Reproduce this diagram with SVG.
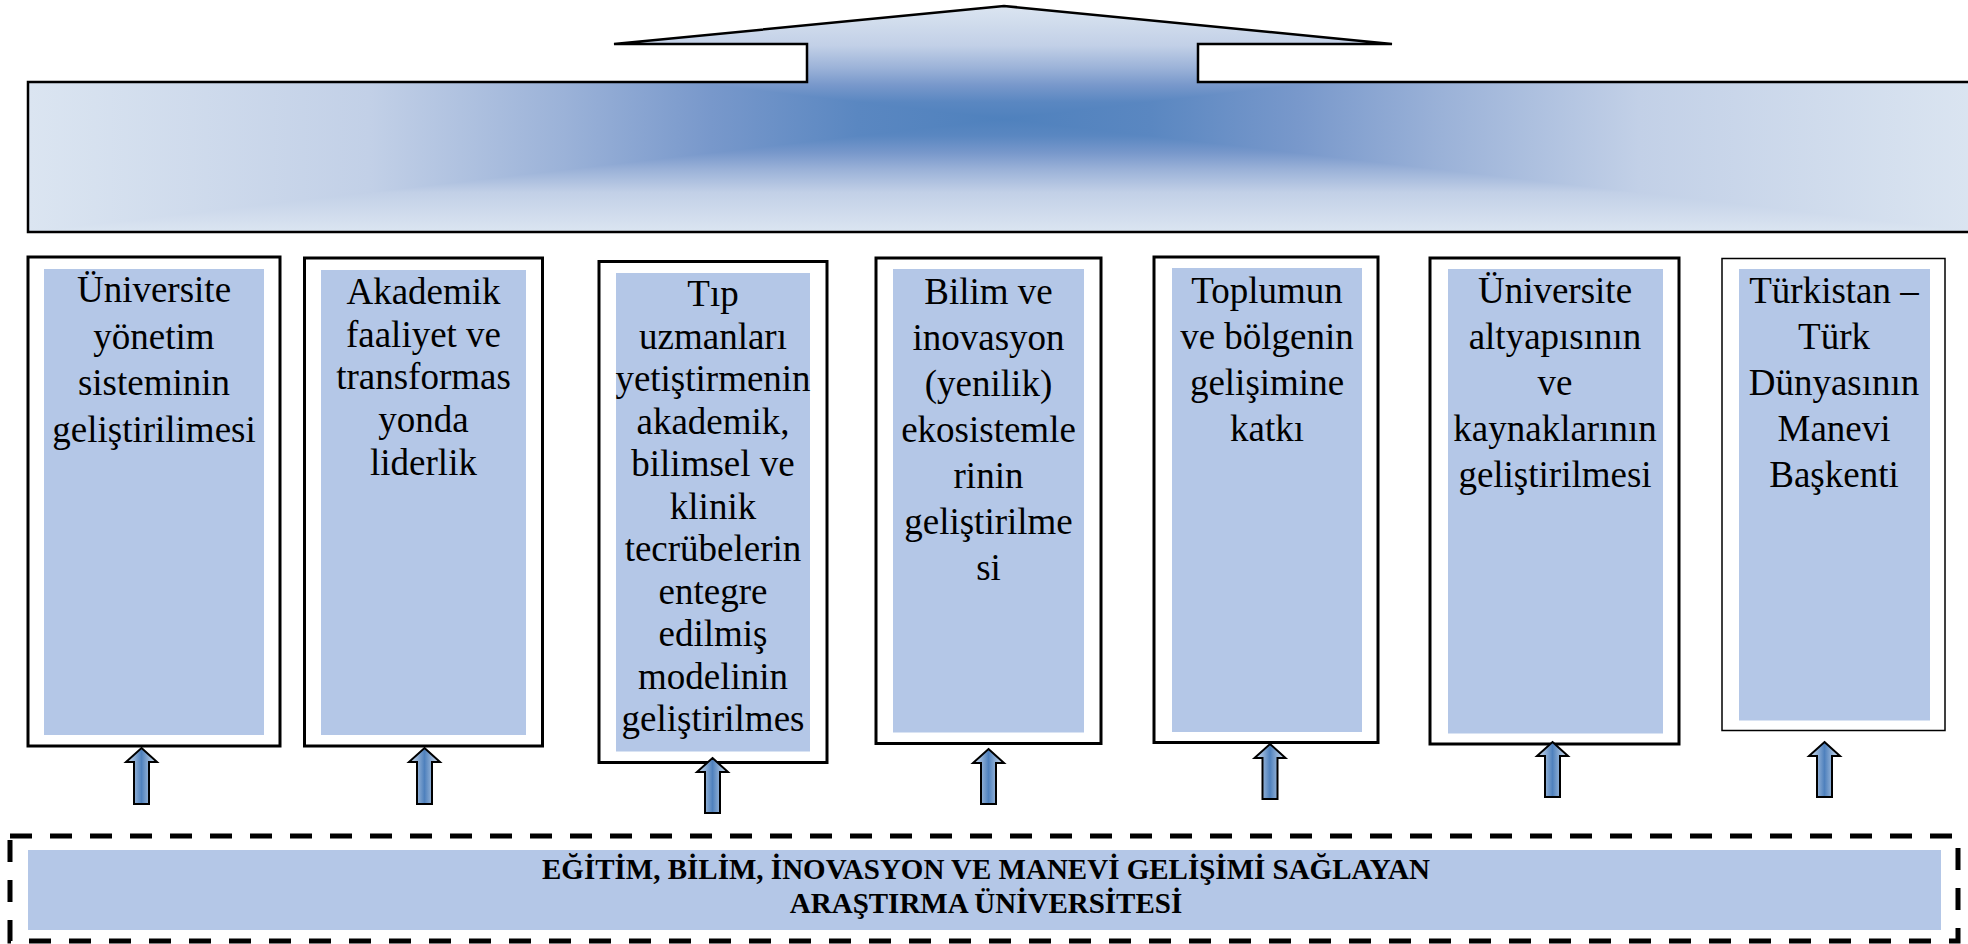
<svg xmlns="http://www.w3.org/2000/svg" width="1968" height="944" viewBox="0 0 1968 944">
<defs>
<path id="topShape" d="M 28 82 L 807 82 L 807 44 L 614 44 L 1004 6 L 1392 44 L 1198 44 L 1198 82 L 1980 82 L 1980 232 L 28 232 Z"/>
<clipPath id="topClip"><use href="#topShape"/></clipPath>
<linearGradient id="hGrad" gradientUnits="userSpaceOnUse" x1="28" y1="0" x2="1980" y2="0">
<stop offset="0" stop-color="#DBE5F1"/>
<stop offset="0.175" stop-color="#C2D0E7"/>
<stop offset="0.275" stop-color="#9BB2D8"/>
<stop offset="0.35" stop-color="#7898CB"/>
<stop offset="0.425" stop-color="#5A87C1"/>
<stop offset="0.5" stop-color="#4F81BD"/>
<stop offset="0.575" stop-color="#5A87C1"/>
<stop offset="0.65" stop-color="#7898CB"/>
<stop offset="0.725" stop-color="#9BB2D8"/>
<stop offset="0.825" stop-color="#C2D0E7"/>
<stop offset="1" stop-color="#DBE5F1"/>
</linearGradient>
<linearGradient id="vTop" gradientUnits="userSpaceOnUse" x1="0" y1="119" x2="0" y2="6">
<stop offset="0" stop-color="#4F81BD"/>
<stop offset="0.15" stop-color="#5A87C1"/>
<stop offset="0.3" stop-color="#7898CB"/>
<stop offset="0.45" stop-color="#9BB2D8"/>
<stop offset="0.65" stop-color="#C2D0E7"/>
<stop offset="1" stop-color="#DBE5F1"/>
</linearGradient>
<linearGradient id="vBot" gradientUnits="userSpaceOnUse" x1="0" y1="119" x2="0" y2="232">
<stop offset="0" stop-color="#4F81BD"/>
<stop offset="0.15" stop-color="#5A87C1"/>
<stop offset="0.3" stop-color="#7898CB"/>
<stop offset="0.45" stop-color="#9BB2D8"/>
<stop offset="0.65" stop-color="#C2D0E7"/>
<stop offset="1" stop-color="#DBE5F1"/>
</linearGradient>
<linearGradient id="arrGrad" x1="0" y1="0" x2="1" y2="0">
<stop offset="0" stop-color="#DCE6F2"/>
<stop offset="0.5" stop-color="#4F81BD"/>
<stop offset="1" stop-color="#DCE6F2"/>
</linearGradient>
<style>
.outer{fill:#FFFFFF;stroke:#000000;stroke-width:3}
.outer.thin{stroke-width:1.5}
.inner{fill:#B4C7E7}
.lbl{font-family:"Liberation Serif","Times New Roman",serif;font-size:37px;fill:#000000;text-anchor:middle}
.bold{font-family:"Liberation Serif","Times New Roman",serif;font-size:29px;font-weight:bold;fill:#000000;text-anchor:middle}
.arr{fill:url(#arrGrad);stroke:#000000;stroke-width:2}
</style>
</defs>
<rect width="1968" height="944" fill="#FFFFFF"/>

<g id="top-arrow">
<g clip-path="url(#topClip)">
<rect x="28" y="6" width="1952" height="226" fill="url(#hGrad)"/>
<polygon points="28,6 1980,6 1004,119" fill="url(#vTop)"/>
<polygon points="28,232 1980,232 1004,119" fill="url(#vBot)"/>
</g>
<use href="#topShape" fill="none" stroke="#000000" stroke-width="2.5"/>
</g>

<g id="node1">
<rect class="outer" x="28" y="257" width="252" height="489"/>
<rect class="inner" x="44" y="269" width="220" height="466"/>
<text class="lbl"><tspan x="154" y="302">Üniversite</tspan><tspan x="154" y="348.6">yönetim</tspan><tspan x="154" y="395.2">sisteminin</tspan><tspan x="154" y="441.8">geliştirilimesi</tspan></text>
</g>

<g id="node2">
<rect class="outer" x="304.5" y="258" width="238" height="488"/>
<rect class="inner" x="321" y="270" width="205" height="465"/>
<text class="lbl"><tspan x="423.5" y="304">Akademik</tspan><tspan x="423.5" y="346.7">faaliyet ve</tspan><tspan x="423.5" y="389.4">transformas</tspan><tspan x="423.5" y="432.1">yonda</tspan><tspan x="423.5" y="474.8">liderlik</tspan></text>
</g>

<g id="node3">
<rect class="outer" x="599" y="261.5" width="228" height="501"/>
<rect class="inner" x="616" y="273" width="194" height="478.5"/>
<text class="lbl"><tspan x="713" y="306.3">Tıp</tspan><tspan x="713" y="348.8">uzmanları</tspan><tspan x="713" y="391.3">yetiştirmenin</tspan><tspan x="713" y="433.8">akademik,</tspan><tspan x="713" y="476.3">bilimsel ve</tspan><tspan x="713" y="518.8">klinik</tspan><tspan x="713" y="561.3">tecrübelerin</tspan><tspan x="713" y="603.8">entegre</tspan><tspan x="713" y="646.3">edilmiş</tspan><tspan x="713" y="688.8">modelinin</tspan><tspan x="713" y="731.3">geliştirilmes</tspan></text>
</g>

<g id="node4">
<rect class="outer" x="876" y="258" width="225" height="485.5"/>
<rect class="inner" x="893" y="269" width="191" height="463.5"/>
<text class="lbl"><tspan x="988.5" y="304">Bilim ve</tspan><tspan x="988.5" y="350">inovasyon</tspan><tspan x="988.5" y="396">(yenilik)</tspan><tspan x="988.5" y="442">ekosistemle</tspan><tspan x="988.5" y="488">rinin</tspan><tspan x="988.5" y="534">geliştirilme</tspan><tspan x="988.5" y="580">si</tspan></text>
</g>

<g id="node5">
<rect class="outer" x="1154" y="257" width="224" height="485.5"/>
<rect class="inner" x="1172" y="268" width="190" height="464"/>
<text class="lbl"><tspan x="1267" y="302.8">Toplumun</tspan><tspan x="1267" y="348.8">ve bölgenin</tspan><tspan x="1267" y="394.8">gelişimine</tspan><tspan x="1267" y="440.8">katkı</tspan></text>
</g>

<g id="node6">
<rect class="outer" x="1430" y="258" width="249" height="486"/>
<rect class="inner" x="1448" y="269" width="215" height="464.5"/>
<text class="lbl"><tspan x="1555" y="302.8">Üniversite</tspan><tspan x="1555" y="348.8">altyapısının</tspan><tspan x="1555" y="394.8">ve</tspan><tspan x="1555" y="440.8">kaynaklarının</tspan><tspan x="1555" y="486.8">geliştirilmesi</tspan></text>
</g>

<g id="node7">
<rect class="outer thin" x="1722" y="258.5" width="223" height="472"/>
<rect class="inner" x="1739" y="269" width="191" height="451.5"/>
<text class="lbl"><tspan x="1834" y="302.8">Türkistan –</tspan><tspan x="1834" y="348.8">Türk</tspan><tspan x="1834" y="394.8">Dünyasının</tspan><tspan x="1834" y="440.8">Manevi</tspan><tspan x="1834" y="486.8">Başkenti</tspan></text>
</g>

<g id="base">
<rect x="10" y="836" width="1948" height="105" fill="none" stroke="#000000" stroke-width="5" stroke-dasharray="22 18"/>
<rect class="inner" x="28" y="850" width="1913" height="80"/>
<text class="bold"><tspan x="986" y="878.5">EĞİTİM, BİLİM, İNOVASYON VE MANEVİ GELİŞİMİ SAĞLAYAN</tspan><tspan x="986" y="912.5">ARAŞTIRMA ÜNİVERSİTESİ</tspan></text>
</g>

<g id="connectors">
<path class="arr" d="M 141.5 748 L 157 762 L 149 762 L 149 804 L 134 804 L 134 762 L 126 762 Z"/>
<path class="arr" d="M 424.5 748 L 440 762 L 432 762 L 432 804 L 417 804 L 417 762 L 409 762 Z"/>
<path class="arr" d="M 712.5 758 L 728 772 L 720 772 L 720 813 L 705 813 L 705 772 L 697 772 Z"/>
<path class="arr" d="M 988.5 749 L 1004 763 L 996 763 L 996 804 L 981 804 L 981 763 L 973 763 Z"/>
<path class="arr" d="M 1270 744 L 1285.5 758 L 1277.5 758 L 1277.5 799 L 1262.5 799 L 1262.5 758 L 1254.5 758 Z"/>
<path class="arr" d="M 1552.5 742 L 1568 756 L 1560 756 L 1560 797 L 1545 797 L 1545 756 L 1537 756 Z"/>
<path class="arr" d="M 1824.5 742 L 1840 756 L 1832 756 L 1832 797 L 1817 797 L 1817 756 L 1809 756 Z"/>
</g>
</svg>
